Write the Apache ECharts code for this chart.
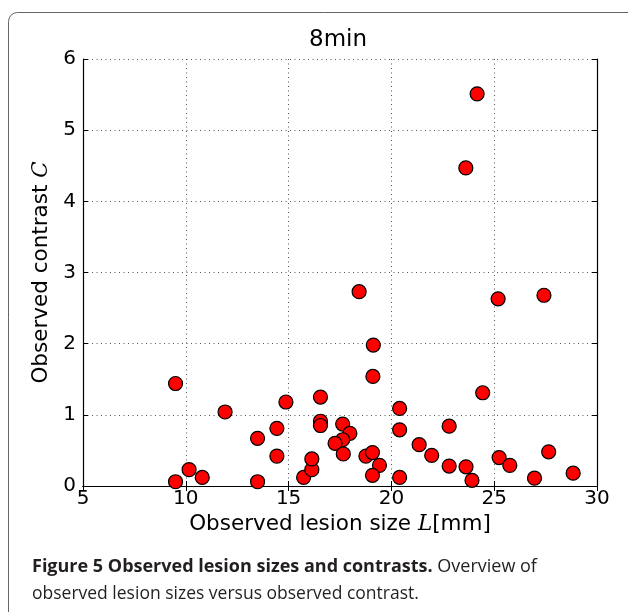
<!DOCTYPE html>
<html>
<head>
<meta charset="utf-8">
<script src="https://cdn.jsdelivr.net/npm/echarts@6/dist/echarts.min.js"></script>
<style>
html,body{margin:0;padding:0;background:#fff;}
#chart{width:628px;height:612px;}
</style>
</head>
<body>
<div id="chart"></div>
<script>
// Observed lesion size L [mm]
const lesionSize = [
  9.50, 11.91, 9.50, 10.16, 10.80, 13.49, 13.49, 14.43, 14.43, 14.87,
  16.55, 16.55, 16.55, 15.73, 16.13, 16.13,
  17.63, 17.98, 17.63, 17.26, 17.66, 18.76, 19.08, 19.42, 19.08, 20.40,
  19.10, 19.12, 18.43, 20.40, 20.40, 22.81, 21.35, 21.96, 22.81, 23.63,
  23.92, 24.44, 23.62, 24.17, 25.19, 27.42, 25.24, 25.76, 27.65, 26.96, 28.84
];
// Observed contrast C
const contrast = [
  1.44, 1.04, 0.06, 0.23, 0.12, 0.67, 0.06, 0.81, 0.42, 1.18,
  1.25, 0.91, 0.85, 0.12, 0.23, 0.38,
  0.87, 0.74, 0.65, 0.60, 0.45, 0.42, 0.47, 0.29, 0.15, 0.12,
  1.54, 1.98, 2.73, 1.09, 0.79, 0.84, 0.58, 0.43, 0.28, 0.27,
  0.08, 1.31, 4.47, 5.51, 2.63, 2.68, 0.40, 0.29, 0.48, 0.11, 0.18
];
const xTicks = [5, 10, 15, 20, 25, 30];
const yTicks = [0, 1, 2, 3, 4, 5, 6];
const chartTitle = '8min';
const captionBold = 'Figure 5 Observed lesion sizes and contrasts.';
const captionRest1 = ' Overview of';
const captionLine2 = 'observed lesion sizes versus observed contrast.';

const points = lesionSize.map((x, i) => [x, contrast[i]]);
const F = 'DejaVu Sans';

const chart = echarts.init(document.getElementById('chart'));
const gridLine = {show: true, lineStyle: {color: '#555', width: 1, type: [1, 3.5]}};
const blackLine = {show: true, lineStyle: {color: '#000', width: 1.2}};
const tick = {show: true, inside: true, length: 5, lineStyle: {color: '#000', width: 1}};
const nameRich = {
  n: {fontFamily: F, fontSize: 21.5, color: '#000'},
  i: {fontFamily: 'DejaVu Serif', fontStyle: 'italic', fontSize: 21.5, color: '#000'}
};

chart.setOption({
  animation: false,
  backgroundColor: '#fff',
  grid: {left: 83, right: 31, top: 59, height: 427},
  xAxis: [{
    type: 'value', min: xTicks[0], max: xTicks[xTicks.length - 1], interval: 5,
    position: 'bottom',
    axisLine: blackLine, axisTick: tick, splitLine: gridLine,
    axisLabel: {color: '#000', fontFamily: F, fontSize: 20, margin: 3},
    name: '{n|Observed lesion size }{i|L}{n|[mm]}',
    nameLocation: 'middle', nameGap: 26,
    nameTextStyle: {rich: nameRich}
  }, {
    type: 'value', min: xTicks[0], max: xTicks[xTicks.length - 1], interval: 5,
    position: 'top',
    axisLine: blackLine, axisTick: tick, splitLine: {show: false},
    axisLabel: {show: false}
  }],
  yAxis: [{
    type: 'value', min: yTicks[0], max: yTicks[yTicks.length - 1], interval: 1,
    position: 'left',
    axisLine: blackLine, axisTick: tick, splitLine: gridLine,
    axisLabel: {color: '#000', fontFamily: F, fontSize: 20, margin: 7},
    name: '{n|Observed contrast }{i|C}',
    nameLocation: 'middle', nameGap: 30,
    nameTextStyle: {rich: nameRich}
  }, {
    type: 'value', min: yTicks[0], max: yTicks[yTicks.length - 1], interval: 1,
    position: 'right',
    axisLine: blackLine, axisTick: tick, splitLine: {show: false},
    axisLabel: {show: false}
  }],
  series: [{
    type: 'scatter',
    data: points,
    symbol: 'circle',
    symbolSize: 14,
    itemStyle: {color: '#ff0000', borderColor: '#000', borderWidth: 1.2, opacity: 1},
    emphasis: {disabled: true},
    z: 5
  }],
  graphic: [
    {type: 'rect', shape: {x: 8.5, y: 12.5, width: 640, height: 640, r: 9},
     style: {fill: 'none', stroke: '#666', lineWidth: 1}, z: 0},
    {type: 'text', x: 338, y: 40,
     style: {text: chartTitle, font: '23px "DejaVu Sans"', fill: '#000', textAlign: 'center', textVerticalAlign: 'middle'}},
    {type: 'text', x: 32, y: 567,
     style: {text: '{b|' + captionBold + '}{r|' + captionRest1 + '}',
       textVerticalAlign: 'middle',
       rich: {
         b: {fontFamily: 'Open Sans', fontWeight: 'bold', fontSize: 18, fill: '#231f20'},
         r: {fontFamily: 'Open Sans', fontSize: 18, fill: '#231f20'}
       }}},
    {type: 'text', x: 32, y: 594,
     style: {text: captionLine2, font: '17.5px "Open Sans"', fill: '#231f20', textVerticalAlign: 'middle'}}
  ]
});
</script>
</body>
</html>
